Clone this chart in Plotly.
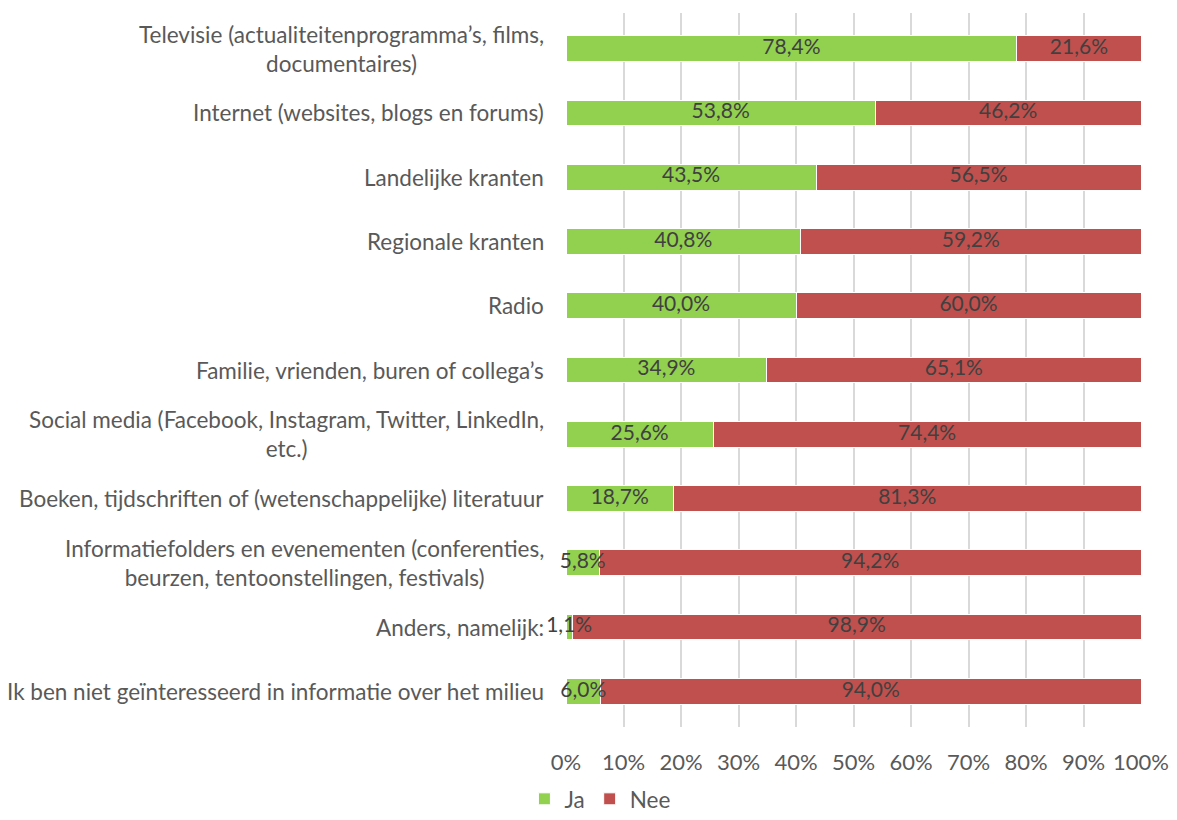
import plotly.graph_objects as go

categories = [
    "Televisie (actualiteitenprogramma’s, films,<br>documentaires)",
    "Internet (websites, blogs en forums)",
    "Landelijke kranten",
    "Regionale kranten",
    "Radio",
    "Familie, vrienden, buren of collega’s",
    "Social media (Facebook, Instagram, Twitter, LinkedIn,<br>etc.)",
    "Boeken, tijdschriften of (wetenschappelijke) literatuur",
    "Informatiefolders en evenementen (conferenties,<br>beurzen, tentoonstellingen, festivals)",
    "Anders, namelijk:",
    "Ik ben niet geïnteresseerd in informatie over het milieu",
]
ja = [78.4, 53.8, 43.5, 40.8, 40.0, 34.9, 25.6, 18.7, 5.8, 1.1, 6.0]
nee = [21.6, 46.2, 56.5, 59.2, 60.0, 65.1, 74.4, 81.3, 94.2, 98.9, 94.0]
ticks = [0, 10, 20, 30, 40, 50, 60, 70, 80, 90, 100]


def pct(v):
    return f"{v:.1f}%".replace(".", ",")


FONT = "Lato, 'Open Sans', sans-serif"
SIZE = 22.5

fig = go.Figure()
fig.add_trace(go.Bar(y=categories, x=ja, name="Ja", orientation="h",
                     marker=dict(color="#92D050", line=dict(color="white", width=1))))
fig.add_trace(go.Bar(y=categories, x=nee, name="Nee", orientation="h",
                     marker=dict(color="#C0504D", line=dict(color="white", width=1))))

# data labels drawn on top of both bars, centred in each segment
fig.add_trace(go.Scatter(
    y=categories + categories,
    x=[v / 2 for v in ja] + [j + n / 2 for j, n in zip(ja, nee)],
    text=[pct(v) for v in ja] + [pct(v) for v in nee],
    mode="text", textposition="middle center",
    textfont=dict(color="#404040", size=21, family=FONT),
    showlegend=False, hoverinfo="skip", cliponaxis=False,
))

# category labels as annotations so wrapped lines are centred like the original
for cat in categories:
    fig.add_annotation(
        x=0, xref="paper", y=cat, yref="y",
        xanchor="right", yanchor="middle", xshift=-20,
        text=cat, align="center", showarrow=False,
        font=dict(family=FONT, size=SIZE, color="#595959"),
    )

fig.update_layout(
    barmode="stack",
    bargap=0.6,
    width=1161, height=804,
    margin=dict(l=558, r=28, t=5, b=85, autoexpand=False),
    plot_bgcolor="white", paper_bgcolor="white",
    font=dict(family=FONT, size=SIZE, color="#595959"),
    legend=dict(orientation="h", x=0.059, xanchor="center",
                y=-0.071, yanchor="top",
                bgcolor="rgba(0,0,0,0)",
                font=dict(size=SIZE, color="#595959"), traceorder="normal",
                itemwidth=30),
    xaxis=dict(range=[0, 100], tickvals=ticks, ticktext=[f"{t}%" for t in ticks],
               tickfont=dict(size=22),
               showgrid=True, gridcolor="#D9D9D9", gridwidth=1.5, zeroline=False,
               showline=False, ticklabelstandoff=20, ticklabeloverflow="allow",
               fixedrange=True),
    yaxis=dict(autorange="reversed", showgrid=False, showline=False,
               showticklabels=False),
)

fig.write_html("out.html")
